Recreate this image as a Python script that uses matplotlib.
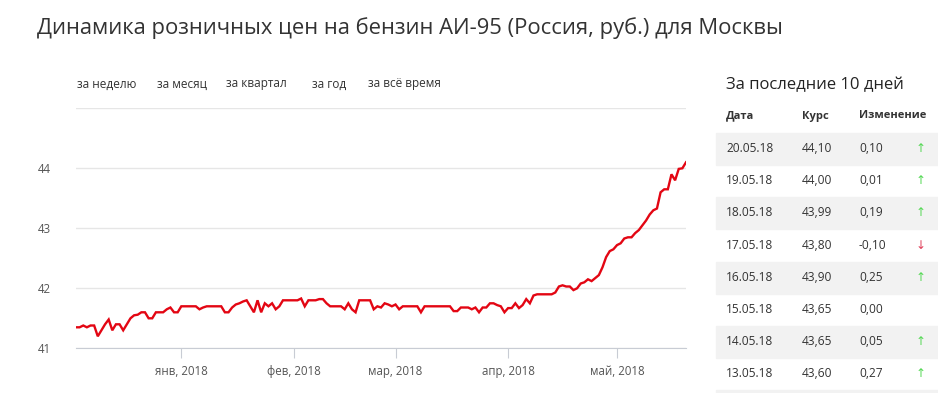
import numpy as np
import pandas as pd
import matplotlib; matplotlib.use("Agg")
import matplotlib.pyplot as plt
import matplotlib.dates as mdates
from matplotlib.patches import Rectangle

INK = "#333333"; MUTED = "#555555"; GRID = "#e6e6e6"; RED = "#e30613"
plt.rcParams.update({"font.family": ["Open Sans", "DejaVu Sans"], "text.color": INK})

# daily retail price, AI-95, Moscow (rub.), from 03.12.2017
start = "2017-12-03"
dec = [41.35, 41.35, 41.38, 41.35, 41.38, 41.38, 41.20, 41.30, 41.40, 41.48,
       41.30, 41.40, 41.40, 41.30, 41.40, 41.50, 41.55, 41.56, 41.60, 41.60,
       41.50, 41.50, 41.60, 41.60, 41.60, 41.65, 41.68, 41.60, 41.60]
jan = [41.70, 41.70, 41.70, 41.70, 41.70, 41.65, 41.68, 41.70, 41.70, 41.70,
       41.70, 41.70, 41.60, 41.60, 41.68, 41.73, 41.75, 41.78, 41.80, 41.70,
       41.60, 41.80, 41.60, 41.75, 41.70, 41.75, 41.65, 41.70, 41.80, 41.80, 41.80]
feb = [41.80, 41.80, 41.83, 41.70, 41.80, 41.80, 41.80, 41.82, 41.82, 41.75,
       41.70, 41.70, 41.70, 41.70, 41.65, 41.75, 41.65, 41.60, 41.80, 41.80,
       41.80, 41.80, 41.65, 41.70, 41.68, 41.75, 41.73, 41.70]
mar = [41.73, 41.65, 41.70, 41.70, 41.70, 41.70, 41.70, 41.60, 41.70, 41.70,
       41.70, 41.70, 41.70, 41.70, 41.70, 41.70, 41.62, 41.62, 41.68, 41.68,
       41.68, 41.65, 41.68, 41.60, 41.68, 41.68, 41.75, 41.75, 41.72, 41.70, 41.60]
apr = [41.67, 41.67, 41.75, 41.67, 41.72, 41.82, 41.75, 41.88, 41.90, 41.90,
       41.90, 41.90, 41.90, 41.93, 42.03, 42.05, 42.03, 42.03, 41.97, 42.00,
       42.08, 42.10, 42.15, 42.12, 42.17, 42.22, 42.35, 42.52, 42.62, 42.65]
may = [42.72, 42.75, 42.83, 42.85, 42.85, 42.92, 42.97, 43.05, 43.13, 43.23,
       43.30, 43.33, 43.60, 43.65, 43.65, 43.90, 43.80, 43.99, 44.00, 44.10]
price = dec + jan + feb + mar + apr + may
dates = pd.date_range(start, periods=len(price), freq="D")

month_ticks = ["2018-01-01", "2018-02-01", "2018-03-01", "2018-04-01", "2018-05-01"]
month_labels = ["янв, 2018", "фев, 2018", "мар, 2018", "апр, 2018", "май, 2018"]
y_ticks = [41, 42, 43, 44, 45]
periods = ["за неделю", "за месяц", "за квартал", "за год", "за всё время"]
period_x = [77, 157, 226, 312, 368]

# last 10 days table
tab_dates = ["20.05.18", "19.05.18", "18.05.18", "17.05.18", "16.05.18",
             "15.05.18", "14.05.18", "13.05.18"]
tab_rates = ["44,10", "44,00", "43,99", "43,80", "43,90", "43,65", "43,65", "43,60"]
tab_change = [0.10, 0.01, 0.19, -0.10, 0.25, 0.00, 0.05, 0.27]

W, H = 938, 393
fig = plt.figure(figsize=(W / 100, H / 100), dpi=100)
px = lambda x: x / W
py = lambda y: 1 - y / H

ax = fig.add_axes([px(76), py(348.3), px(686) - px(76), py(108.3) - py(348.3)])
ax.plot(dates, price, color=RED, lw=1.7, solid_joinstyle="miter")
ax.set_xlim(dates[0], dates[-1])
ax.set_ylim(41, 45)
ax.set_yticks(y_ticks, [str(v) for v in y_ticks[:-1]] + [""])
ax.grid(axis="y", color=GRID, lw=1)
ax.set_xticks(pd.to_datetime(month_ticks), month_labels)
ax.tick_params(axis="x", length=7, color="#c8ccd4", labelsize=8.3, labelcolor=MUTED, pad=5)
ax.tick_params(axis="y", length=0, labelsize=8.3, labelcolor=MUTED, pad=18)
for s in ("top", "right", "left"):
    ax.spines[s].set_visible(False)
ax.spines["bottom"].set_color("#c8ccd4")
ax.set_axisbelow(True)

fig.text(px(37), py(28), "Динамика розничных цен на бензин АИ-95 (Россия, руб.) для Москвы",
         fontsize=15.8, color=INK, va="center", ha="left")
for lab, x in zip(periods, period_x):
    fig.text(px(x), py(84), lab, fontsize=8.5, color=INK, va="center", ha="left")

# right panel
fig.text(px(726), py(85), "За последние 10 дней", fontsize=12, color="#222222", va="center")
for lab, x in zip(["Дата", "Курс", "Изменение"], [726, 802, 859]):
    fig.text(px(x), py(116), lab, fontsize=8, fontweight="bold", color=INK, va="center")
row_h = 32.2
for i in range(9):
    top = 132.7 + i * row_h
    if i % 2 == 0:
        fig.patches.append(Rectangle((px(716), py(top + row_h)), px(938) - px(716), row_h / H,
                                     transform=fig.transFigure, color="#f2f2f2", zorder=0))
for i, (d, r, c) in enumerate(zip(tab_dates, tab_rates, tab_change)):
    yc = 148.5 + i * row_h
    fig.text(px(726), py(yc), d, fontsize=8.6, color=INK, va="center")
    fig.text(px(802), py(yc), r, fontsize=8.6, color=INK, va="center")
    fig.text(px(859), py(yc), f"{c:.2f}".replace(".", ","), fontsize=8.6, color=INK, va="center")
    if c > 0:
        fig.text(px(921), py(yc), "↑", fontsize=8.6, color="#55d855", va="center", ha="center")
    elif c < 0:
        fig.text(px(921), py(yc), "↓", fontsize=8.6, color="#e0405a", va="center", ha="center")

fig.savefig("out.png", dpi=100, facecolor="white")
